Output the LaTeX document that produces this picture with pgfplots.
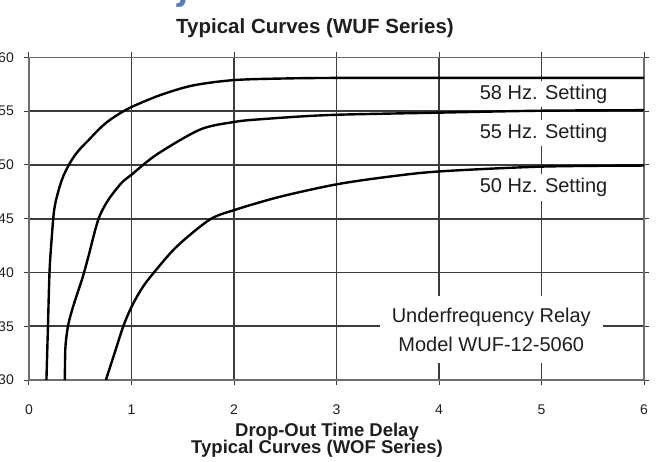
\documentclass[border=0pt]{standalone}
\usepackage{fontspec}
\setmainfont{Liberation Sans}
\usepackage{pgfplots}
\pgfplotsset{compat=1.18}
\definecolor{gridc}{RGB}{60,60,60}
\definecolor{framec}{RGB}{110,110,110}
\definecolor{adjblue}{RGB}{90,125,180}
\definecolor{txt}{RGB}{30,30,30}
\begin{document}
\begin{tikzpicture}
\path[use as bounding box, clip] (0,0) rectangle (659pt,461pt);
\begin{axis}[
  scale only axis, width=615pt, height=322.5pt,
  at={(29pt,81pt)}, anchor=south west,
  xmin=0, xmax=6, ymin=30, ymax=60,
  xtick={0,1,2,3,4,5,6}, ytick={30,35,40,45,50,55,60},
  grid=major,
  major grid style={draw=gridc, line width=1.6pt},
  axis line style={draw=framec, line width=1.6pt},
  tick style={draw=gridc, line width=1pt},
  tick align=outside, major tick length=5pt,
  /pgf/number format/assume math mode=true,
  ticklabel style={font=\fontsize{14}{14}\selectfont, text=txt},
  xticklabel style={inner sep=0pt, anchor=north, yshift=-20pt},
  yticklabel style={inner sep=0pt, anchor=east, xshift=-10pt},
]
\addplot[black, line width=2.4pt, smooth, tension=0.5] coordinates {
 (0.17,30) (0.185,35) (0.20,40) (0.22,43) (0.25,46.1) (0.32,48.6)
 (0.40,50.2) (0.48,51.3) (0.58,52.3) (0.68,53.3) (0.79,54.2) (0.98,55.3)
 (1.28,56.5) (1.60,57.4) (2.0,57.9) (2.5,58.05) (3,58.1) (4,58.1) (5,58.1) (6,58.1)};
\addplot[black, line width=2.4pt, smooth, tension=0.5] coordinates {
 (0.35,30) (0.355,33) (0.38,35) (0.42,36.5) (0.47,38) (0.525,39.6) (0.58,41.5)
 (0.675,44.9) (0.77,46.7) (0.90,48.3) (1.0,49.1) (1.25,51.0) (1.67,53.3)
 (2.0,54.0) (2.25,54.25) (2.93,54.65) (4,54.87) (5,55.05) (6,55.1)};
\addplot[black, line width=2.4pt, smooth, tension=0.5] coordinates {
 (0.75,30) (0.835,32.5) (0.92,35) (1.0,36.8) (1.1,38.5) (1.21,39.9) (1.44,42.4)
 (1.76,44.9) (2.0,45.8) (2.45,47.05) (3.0,48.2) (3.5,48.9) (4.0,49.4)
 (5.0,49.85) (6,49.95)};
\node[fill=white, inner sep=4pt, anchor=base, text=txt, font=\fontsize{20}{24}\selectfont] at (5.02,56.11) {58 Hz. Setting};
\node[fill=white, inner sep=4pt, anchor=base, text=txt, font=\fontsize{20}{24}\selectfont] at (5.02,52.48) {55 Hz. Setting};
\node[fill=white, inner sep=4pt, anchor=base, text=txt, font=\fontsize{20}{24}\selectfont] at (5.02,47.42) {50 Hz. Setting};
\node[fill=white, inner xsep=12pt, inner ysep=12pt, align=center, text=txt, font=\fontsize{20}{29}\selectfont] at (4.51,34.7) {Underfrequency Relay\\Model WUF-12-5060};
\end{axis}
\node[anchor=base, inner sep=0pt, text=txt, font=\fontsize{20.5}{22}\selectfont\bfseries] at (315pt,427.5pt) {Typical Curves (WUF Series)};
\node[anchor=base, inner sep=0pt, text=txt, font=\fontsize{18.5}{20}\selectfont\bfseries] at (327pt,25pt) {Drop-Out Time Delay};
\node[anchor=base, inner sep=0pt, text=txt, font=\fontsize{18.5}{20}\selectfont\bfseries] at (317pt,7.7pt) {Typical Curves (WOF Series)};
\node[anchor=base west, inner sep=0pt, text=adjblue, font=\fontsize{38}{40}\selectfont\bfseries\itshape] at (130pt,461.8pt) {Adjustable};
\end{tikzpicture}
\end{document}
